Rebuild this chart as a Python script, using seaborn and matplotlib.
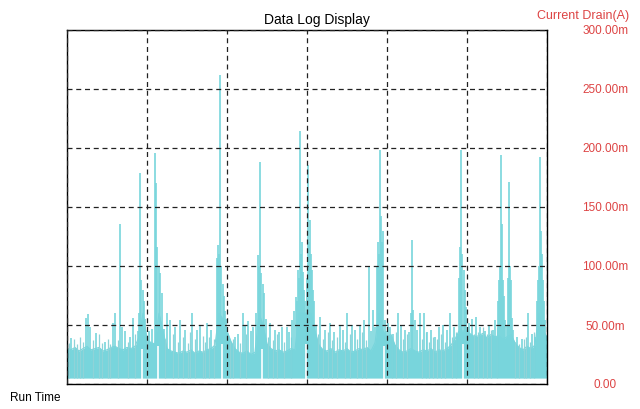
import numpy as np
import pandas as pd
import seaborn as sns
import matplotlib
matplotlib.use("Agg")
import matplotlib.pyplot as plt

# dense band envelope (mA), read every 4 run-time units, 0..480
base_current = [
    30, 29, 31, 28, 30, 32, 29, 30, 31, 28, 29, 31, 32, 30, 29, 31, 30, 32, 40, 60,
    38, 35, 34, 60, 45, 30, 28, 27, 26, 28, 27, 29, 26, 28, 27, 29, 30, 33, 60, 55,
    45, 36, 30, 27, 26, 28, 25, 27, 60, 50, 34, 30, 28, 29, 27, 28, 30, 29, 60, 60,
    60, 60, 45, 33, 29, 28, 30, 27, 29, 28, 30, 27, 28, 30, 29, 31, 28, 35, 60, 45,
    40, 42, 33, 29, 27, 28, 30, 28, 27, 29, 28, 30, 27, 29, 28, 30, 33, 38, 45, 45,
    45, 42, 40, 41, 43, 39, 42, 40, 41, 38, 40, 42, 35, 31, 29, 32, 30, 33, 60, 45,
    40,
]

# spikes sticking out of the band
peak_time = [
    4, 19, 21, 23, 29, 38, 46, 48, 53, 55, 58, 63, 66, 71, 72, 73, 74, 76, 77, 78,
    82, 85, 88, 89, 90, 92, 93, 95, 97, 100, 103, 108, 113, 118, 125, 130, 133, 140, 144,
    150, 151, 152, 153, 154, 156, 157, 158, 159,
    168, 171, 176, 178, 181, 184, 186, 189, 191, 192, 193, 194, 196, 197, 199, 203, 208, 212,
    215, 220, 222, 225, 227, 229, 230, 231, 232, 233, 234, 235, 236, 237, 238,
    240, 241, 242, 243, 244, 245, 246, 247, 249, 253, 258, 263, 267, 273, 276, 280, 285, 288, 293, 297,
    302, 304, 306, 308, 310, 311, 312, 313, 314, 315, 316, 318, 319,
    321, 323, 326, 331, 334, 338, 342, 344, 345, 346, 348, 350, 353, 357, 360, 364,
    368, 372, 376, 380, 383, 387, 390, 392, 393, 394, 395, 397, 398, 399,
    402, 405, 409, 413, 418, 422, 426, 428, 431, 432, 433, 434, 435, 436, 437, 438, 440,
    441, 442, 443, 444, 445, 446, 450, 455, 461, 465, 468, 470, 471, 472, 473, 474, 475,
    476, 477, 478,
]
peak_current = [
    39, 56, 59, 48, 43, 36, 52, 60, 136, 48, 45, 40, 56, 45, 60, 179, 88, 80, 70, 55,
    45, 47, 196, 170, 116, 100, 94, 77, 47, 60, 54, 48, 54, 46, 60, 46, 50, 52, 46,
    107, 118, 110, 262, 100, 85, 75, 62, 55,
    40, 42, 60, 50, 53, 45, 48, 60, 109, 100, 188, 94, 85, 77, 55, 52, 46, 44,
    48, 48, 44, 54, 62, 74, 70, 97, 90, 214, 110, 120, 95, 80, 70,
    90, 186, 120, 139, 110, 97, 80, 70, 50, 57, 46, 52, 44, 50, 46, 60, 50, 46, 50, 54,
    100, 45, 63, 48, 99, 120, 110, 198, 142, 120, 130, 54, 45,
    52, 48, 42, 60, 50, 46, 44, 60, 122, 63, 54, 46, 60, 60, 44, 46,
    40, 48, 50, 46, 60, 48, 42, 90, 116, 198, 110, 97, 80, 65,
    52, 55, 57, 48, 45, 50, 46, 54, 70, 88, 100, 194, 136, 88, 75, 54, 50,
    90, 171, 100, 88, 56, 46, 40, 38, 60, 42, 40, 70, 88, 100, 192, 130, 110,
    88, 70, 54,
]

# small ripples along the top of the band
ripple_time = [
    2, 7, 10, 13, 16, 26, 32, 35, 41, 43, 51, 61, 68, 80, 98, 106, 111, 116, 121, 123,
    128, 136, 138, 142, 147, 163, 166, 173, 179, 201, 206, 210, 217, 224, 251, 256, 261,
    265, 270, 278, 283, 290, 295, 299, 325, 329, 336, 340, 355, 359, 362, 366, 370, 374,
    378, 385, 389, 401, 407, 411, 416, 420, 424, 430, 448, 452, 457, 459, 463, 467,
]
ripple_current = [
    35, 38, 34, 40, 36, 37, 42, 35, 38, 34, 37, 36, 42, 40, 38, 42, 36, 40, 35, 44,
    38, 41, 36, 40, 38, 36, 38, 35, 42, 40, 37, 42, 36, 40, 42, 38, 44,
    37, 40, 36, 42, 38, 44, 37, 40, 44, 38, 42, 38, 44, 36, 40, 38, 42,
    36, 40, 44, 46, 42, 44, 48, 42, 46, 48, 36, 34, 38, 40, 36, 44,
]

# short dropouts where the reading falls to zero
dropout_time = [75, 91, 155, 195, 239, 317, 396]
dropout_top = [30, 32, 34, 30, 34, 32, 34]

band_floor = 5  # lowest reading of the dense band (mA)

y_ticks = [0, 50, 100, 150, 200, 250, 300]
y_labels = ["0.00", "50.00m", "100.00m", "150.00m", "200.00m", "250.00m", "300.00m"]

band = pd.DataFrame({"run_time": np.arange(0, 481, 4), "current": base_current})
peaks = pd.DataFrame({"run_time": peak_time, "current": peak_current})
ripples = pd.DataFrame({"run_time": ripple_time, "current": ripple_current})

sns.set_style("white")
plt.rcParams["font.family"] = ["Liberation Sans", "DejaVu Sans"]

cyan = "#78d5dc"
red = "#dd4444"

fig = plt.figure(figsize=(6.4, 4.09), dpi=100)
ax = fig.add_axes([67 / 640, 25 / 409, 480 / 640, 354 / 409])

ax.fill_between(band["run_time"], band_floor, band["current"], color=cyan,
                linewidth=0, zorder=1)
sns.lineplot(data=band, x="run_time", y="current", ax=ax, color=cyan,
             linewidth=0.8, estimator=None, zorder=2)
ax.vlines(ripples["run_time"], band_floor, ripples["current"], color="#8fd3d8",
          linewidth=0.9, zorder=2)
ax.vlines(peaks["run_time"], band_floor, peaks["current"], color=cyan,
          linewidth=1.2, zorder=2)
ax.vlines(dropout_time, 0, dropout_top, color="white", linewidth=1.2, zorder=2.2)

ax.set_xlim(0, 480)
ax.set_ylim(0, 300)
ax.set_xticks(range(0, 481, 80))
ax.set_xticklabels([])
ax.set_yticks(y_ticks)
ax.yaxis.tick_right()
ax.set_yticklabels(y_labels, color=red, fontsize=8.5, ha="center")
ax.tick_params(axis="y", length=0, pad=42)
ax.tick_params(axis="x", direction="inout", length=4, width=0.8, color="black")
ax.set_xlabel("")
ax.set_ylabel("")

ax.set_axisbelow(False)
ax.grid(True, color="#222222", linestyle=(0, (4, 3)), linewidth=0.9)
for s in ax.spines.values():
    s.set_visible(True)
    s.set_color("black")
    s.set_linewidth(1.0)

fig.text(317 / 640, 1 - 20 / 409, "Data Log Display", ha="center", va="center",
         fontsize=10, color="black")
fig.text(583 / 640, 1 - 16 / 409, "Current Drain(A)", ha="center", va="center",
         fontsize=9, color=red)
fig.text(10 / 640, 1 - 398 / 409, "Run Time", ha="left", va="center",
         fontsize=8.5, color="black")

fig.savefig("out.png", dpi=100)
